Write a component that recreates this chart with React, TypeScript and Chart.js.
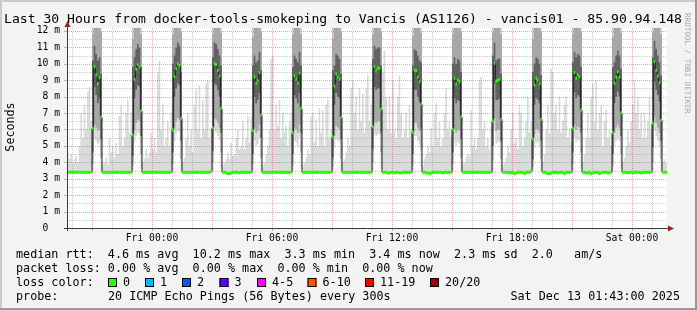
import { useEffect, useRef } from "react";
import { Chart, registerables } from "chart.js";

Chart.register(...registerables);

// ---------- axis ranges (hours relative to Fri 00:00) ----------
const xStartHour = -4.25;
const xEndHour = 25.75;
const stepHours = 5 / 60;
const yMax = 12.18;

const xTickHours = [0, 6, 12, 18, 24];
const xTickLabels = ["Fri 00:00", "Fri 06:00", "Fri 12:00", "Fri 18:00", "Sat 00:00"];
const yTickValues = [0, 1, 2, 3, 4, 5, 6, 7, 8, 9, 10, 11, 12];
const yTickLabels = ["0  ", "1 m", "2 m", "3 m", "4 m", "5 m", "6 m", "7 m", "8 m", "9 m", "10 m", "11 m", "12 m"];

// ---------- median rtt per 5-minute step (ms) ----------
const rttMed = [
  3.4, 3.4, 3.4, 3.4, 3.4, 3.4, 3.4, 3.4, 3.4, 3.4, 3.4, 3.4, 3.4, 3.4, 3.4,
  6.07, 9.82, 9.32, 8.8, 9.15, 6.76, 3.4, 3.4, 3.4, 3.4, 3.4, 3.4, 3.4, 3.4, 3.4, 3.4, 3.4, 3.4, 3.4, 3.4, 3.4, 3.4, 3.4, 3.4,
  5.66, 9.05, 9.66, 9.95, 9.8, 7.14, 3.4, 3.4, 3.4, 3.4, 3.4, 3.4, 3.4, 3.4, 3.4, 3.4, 3.4, 3.4, 3.4, 3.4, 3.4, 3.4, 3.4, 3.4,
  5.97, 9.22, 9.72, 10.0, 9.9, 6.68, 3.4, 3.4, 3.4, 3.4, 3.4, 3.4, 3.4, 3.4, 3.4, 3.4, 3.4, 3.4, 3.4, 3.4, 3.4, 3.4, 3.4, 3.45,
  6.1, 10.0, 9.95, 9.6, 9.26, 7.29, 3.4, 3.4, 3.35, 3.3, 3.3, 3.35, 3.4, 3.4, 3.4, 3.4, 3.35, 3.4, 3.4, 3.4, 3.4, 3.4, 3.4, 3.4,
  5.93, 9.18, 8.81, 8.97, 9.46, 6.88, 3.4, 3.4, 3.4, 3.4, 3.4, 3.4, 3.4, 3.4, 3.4, 3.4, 3.4, 3.4, 3.4, 3.4, 3.4, 3.4, 3.4, 3.4,
  5.8, 9.26, 9.06, 8.85, 9.42, 7.29, 3.4, 3.4, 3.4, 3.4, 3.4, 3.4, 3.4, 3.4, 3.4, 3.4, 3.4, 3.4, 3.4, 3.4, 3.4, 3.4, 3.4, 3.4,
  5.56, 8.65, 9.38, 9.2, 9.06, 6.74, 3.4, 3.4, 3.4, 3.4, 3.4, 3.4, 3.4, 3.4, 3.4, 3.4, 3.4, 3.4, 3.4, 3.4, 3.4, 3.4, 3.4, 3.4,
  6.17, 9.82, 9.62, 9.75, 9.72, 7.25, 3.4, 3.4, 3.4, 3.35, 3.35, 3.4, 3.4, 3.35, 3.4, 3.4, 3.35, 3.35, 3.4, 3.4, 3.4, 3.4, 3.4, 3.4,
  5.83, 9.62, 9.58, 9.2, 8.91, 7.55, 3.4, 3.4, 3.35, 3.35, 3.3, 3.35, 3.4, 3.4, 3.4, 3.4, 3.4, 3.4, 3.35, 3.4, 3.4, 3.4, 3.4, 3.4,
  6.01, 9.12, 8.77, 9.01, 8.91, 6.78, 3.4, 3.4, 3.4, 3.4, 3.4, 3.4, 3.4, 3.4, 3.4, 3.4, 3.4, 3.4, 3.4, 3.4, 3.4, 3.4, 3.4, 3.4,
  6.52, 10.03, 8.95, 9.0, 9.06, 6.62, 3.4, 3.4, 3.4, 3.4, 3.35, 3.4, 3.4, 3.3, 3.35, 3.4, 3.4, 3.4, 3.4, 3.3, 3.4, 3.4, 3.4, 3.45,
  5.42, 8.71, 9.12, 9.0, 8.77, 6.62, 3.4, 3.4, 3.35, 3.3, 3.3, 3.35, 3.4, 3.4, 3.4, 3.35, 3.4, 3.4, 3.4, 3.3, 3.4, 3.4, 3.4, 3.4,
  6.07, 9.46, 9.12, 9.32, 9.2, 7.19, 3.4, 3.4, 3.35, 3.35, 3.4, 3.3, 3.35, 3.4, 3.4, 3.4, 3.3, 3.35, 3.4, 3.4, 3.4, 3.35, 3.4, 3.4,
  5.8, 8.81, 9.18, 9.52, 9.18, 7.02, 3.4, 3.4, 3.4, 3.35, 3.4, 3.4, 3.35, 3.4, 3.4, 3.4, 3.4, 3.35, 3.4, 3.4, 3.4, 3.4, 3.4, 3.4,
  6.38, 10.13, 9.6, 9.26, 8.85, 6.58, 3.4, 3.4, 3.4,
];

// ---------- smoke: lowest ping per step ----------
const rttMin = [
  3.3, 3.3, 3.3, 3.3, 3.3, 3.3, 3.3, 3.3, 3.3, 3.3, 3.3, 3.3, 3.3, 3.3, 3.3,
  3.5, 5.4, 5.3, 5.1, 5.2, 3.5, 3.3, 3.3, 3.3, 3.3, 3.3, 3.3, 3.3, 3.3, 3.3, 3.3, 3.3, 3.3, 3.3, 3.3, 3.3, 3.3, 3.3, 3.3,
  3.5, 5.2, 5.6, 5.8, 5.7, 3.6, 3.3, 3.3, 3.3, 3.3, 3.3, 3.3, 3.3, 3.3, 3.3, 3.3, 3.3, 3.3, 3.3, 3.3, 3.3, 3.3, 3.3, 3.3,
  3.5, 5.3, 5.7, 5.9, 5.8, 3.5, 3.3, 3.3, 3.3, 3.3, 3.3, 3.3, 3.3, 3.3, 3.3, 3.3, 3.3, 3.3, 3.3, 3.3, 3.3, 3.3, 3.3, 3.3,
  3.5, 5.9, 5.8, 5.6, 5.3, 3.6, 3.3, 3.3, 3.3, 3.3, 3.3, 3.3, 3.3, 3.3, 3.3, 3.3, 3.3, 3.3, 3.3, 3.3, 3.3, 3.3, 3.3, 3.3,
  3.5, 5.3, 5.0, 5.1, 5.5, 3.5, 3.3, 3.3, 3.3, 3.3, 3.3, 3.3, 3.3, 3.3, 3.3, 3.3, 3.3, 3.3, 3.3, 3.3, 3.3, 3.3, 3.3, 3.3,
  3.5, 5.3, 5.2, 5.0, 5.5, 3.6, 3.3, 3.3, 3.3, 3.3, 3.3, 3.3, 3.3, 3.3, 3.3, 3.3, 3.3, 3.3, 3.3, 3.3, 3.3, 3.3, 3.3, 3.3,
  3.5, 4.9, 5.4, 5.3, 5.2, 3.5, 3.3, 3.3, 3.3, 3.3, 3.3, 3.3, 3.3, 3.3, 3.3, 3.3, 3.3, 3.3, 3.3, 3.3, 3.3, 3.3, 3.3, 3.3,
  3.5, 5.7, 5.6, 5.7, 5.7, 3.6, 3.3, 3.3, 3.3, 3.3, 3.3, 3.3, 3.3, 3.3, 3.3, 3.3, 3.3, 3.3, 3.3, 3.3, 3.3, 3.3, 3.3, 3.3,
  3.5, 5.6, 5.6, 5.3, 5.1, 3.7, 3.3, 3.3, 3.3, 3.3, 3.3, 3.3, 3.3, 3.3, 3.3, 3.3, 3.3, 3.3, 3.3, 3.3, 3.3, 3.3, 3.3, 3.3,
  3.5, 5.2, 5.0, 5.2, 5.1, 3.5, 3.3, 3.3, 3.3, 3.3, 3.3, 3.3, 3.3, 3.3, 3.3, 3.3, 3.3, 3.3, 3.3, 3.3, 3.3, 3.3, 3.3, 3.3,
  3.5, 5.9, 5.1, 5.2, 5.2, 3.5, 3.3, 3.3, 3.3, 3.3, 3.3, 3.3, 3.3, 3.3, 3.3, 3.3, 3.3, 3.3, 3.3, 3.3, 3.3, 3.3, 3.3, 3.3,
  3.5, 4.9, 5.2, 5.2, 5.0, 3.5, 3.3, 3.3, 3.3, 3.3, 3.3, 3.3, 3.3, 3.3, 3.3, 3.3, 3.3, 3.3, 3.3, 3.3, 3.3, 3.3, 3.3, 3.3,
  3.5, 5.5, 5.2, 5.4, 5.3, 3.6, 3.3, 3.3, 3.3, 3.3, 3.3, 3.3, 3.3, 3.3, 3.3, 3.3, 3.3, 3.3, 3.3, 3.3, 3.3, 3.3, 3.3, 3.3,
  3.5, 5.0, 5.3, 5.5, 5.3, 3.6, 3.3, 3.3, 3.3, 3.3, 3.3, 3.3, 3.3, 3.3, 3.3, 3.3, 3.3, 3.3, 3.3, 3.3, 3.3, 3.3, 3.3, 3.3,
  3.5, 5.9, 5.6, 5.3, 5.0, 3.5, 3.3, 3.3, 3.3,
];

// ---------- smoke: highest ping per step ----------
const rttMax = [
  4.6, 4.2, 4.5, 4.0, 4.2, 4.4, 4.0, 5.0, 7.0, 5.5, 7.5, 6.0, 8.3, 8.6, 6.5,
  12.5, 12.5, 12.5, 12.5, 12.5, 12.5, 3.9, 4.0, 4.3, 3.9, 5.5, 4.6, 5.0, 4.3, 5.2, 4.5, 6.8, 7.5, 5.0, 5.5, 7.0, 7.8, 5.8, 7.0,
  12.5, 12.5, 12.5, 12.5, 12.5, 12.5, 4.0, 4.2, 4.8, 4.3, 4.6, 5.8, 4.8, 5.5, 4.6, 9.5, 10.2, 6.0, 7.5, 5.0, 5.5, 6.5, 5.0, 7.0,
  12.5, 12.5, 12.5, 12.5, 12.5, 12.5, 4.0, 4.3, 5.5, 7.0, 5.0, 6.0, 4.6, 7.5, 8.5, 6.0, 8.7, 5.5, 7.8, 6.0, 8.8, 9.0, 5.5, 6.0,
  12.5, 12.5, 12.5, 12.5, 12.5, 12.5, 3.8, 4.0, 4.2, 4.6, 4.2, 5.2, 4.4, 4.5, 5.5, 6.0, 4.8, 5.0, 6.5, 4.8, 5.5, 6.8, 5.2, 6.8,
  12.5, 12.5, 12.5, 12.5, 12.5, 12.5, 3.8, 4.0, 4.5, 5.0, 6.0, 10.3, 10.5, 6.0, 7.5, 6.2, 7.8, 5.5, 7.0, 5.8, 6.2, 5.0, 6.5, 7.0,
  12.5, 12.5, 12.5, 12.5, 12.5, 12.5, 3.8, 4.0, 4.3, 4.8, 4.5, 6.8, 7.0, 5.2, 6.6, 5.0, 7.3, 5.8, 7.2, 5.0, 7.5, 7.8, 5.5, 6.0,
  12.5, 12.5, 12.5, 12.5, 12.5, 12.5, 4.0, 4.2, 4.6, 5.5, 5.0, 8.5, 9.0, 7.0, 8.0, 6.0, 8.5, 6.5, 8.2, 5.8, 8.5, 9.3, 6.5, 7.5,
  12.5, 12.5, 12.5, 12.5, 12.5, 12.5, 9.5, 10.8, 8.0, 6.0, 8.0, 5.8, 9.0, 6.0, 5.5, 8.0, 9.3, 7.0, 5.5, 6.0, 7.0, 5.5, 7.5, 6.0,
  12.5, 12.5, 12.5, 12.5, 12.5, 12.5, 3.8, 4.2, 4.5, 5.0, 4.6, 6.1, 5.0, 7.0, 7.6, 5.5, 6.5, 5.0, 5.5, 7.0, 8.5, 6.0, 6.5, 5.5,
  12.5, 12.5, 12.5, 12.5, 12.5, 12.5, 3.9, 4.0, 4.3, 4.5, 4.4, 7.2, 5.0, 5.5, 4.8, 5.5, 9.0, 9.2, 6.0, 6.5, 5.0, 5.5, 4.8, 6.2,
  12.5, 12.5, 12.5, 12.5, 12.5, 12.5, 3.8, 4.0, 4.3, 5.0, 4.6, 6.0, 7.0, 5.2, 5.5, 4.8, 7.5, 7.0, 5.0, 5.5, 6.5, 8.0, 5.8, 6.5,
  12.5, 12.5, 12.5, 12.5, 12.5, 12.5, 4.0, 4.5, 6.0, 7.5, 5.8, 9.7, 9.5, 7.0, 7.5, 6.0, 8.0, 5.8, 6.5, 7.5, 8.0, 5.5, 6.0, 5.2,
  12.5, 12.5, 12.5, 12.5, 12.5, 12.5, 4.0, 4.5, 5.5, 7.0, 5.5, 8.0, 8.8, 6.5, 9.0, 6.0, 7.0, 7.5, 5.0, 6.5, 7.2, 5.5, 6.0, 5.0,
  12.5, 12.5, 12.5, 12.5, 12.5, 12.5, 4.0, 4.3, 5.0, 6.0, 5.2, 6.5, 7.5, 9.0, 7.0, 8.0, 6.0, 7.0, 5.5, 7.0, 5.5, 6.5, 8.0, 6.0,
  12.5, 12.5, 12.5, 12.5, 12.5, 12.5, 4.0, 4.2, 4.0,
];

// ---------- latency bursts: first step of each burst and 6 steps of inner smoke ----------
const spikeStart = [15, 39, 63, 87, 111, 135, 159, 183, 207, 231, 255, 279, 303, 327, 351];

const spikeMidLo = [
  3.9, 6.3, 6.1, 5.9, 6.0, 4.3,
  3.8, 6.0, 6.4, 6.6, 6.5, 4.5,
  3.9, 6.1, 6.5, 6.7, 6.6, 4.2,
  4.0, 6.7, 6.6, 6.4, 6.1, 4.6,
  3.9, 6.1, 5.8, 5.9, 6.3, 4.3,
  3.8, 6.1, 6.0, 5.8, 6.3, 4.6,
  3.7, 5.6, 6.2, 6.1, 6.0, 4.2,
  4.0, 6.5, 6.4, 6.5, 6.5, 4.6,
  3.8, 6.4, 6.4, 6.1, 5.9, 4.8,
  3.9, 6.0, 5.8, 6.0, 5.9, 4.3,
  4.1, 6.7, 5.9, 6.0, 6.0, 4.2,
  3.7, 5.7, 6.0, 6.0, 5.8, 4.2,
  3.9, 6.3, 6.0, 6.2, 6.1, 4.6,
  3.8, 5.8, 6.1, 6.3, 6.1, 4.5,
  4.0, 6.8, 6.4, 6.1, 5.8, 4.2,
];
const spikeMidHi = [
  11.8, 12.5, 12.5, 12.5, 12.5, 12.0,
  11.5, 12.5, 12.5, 12.5, 12.5, 11.8,
  11.8, 12.5, 12.5, 12.5, 12.5, 12.0,
  11.8, 12.5, 12.5, 12.5, 12.5, 11.9,
  11.6, 12.5, 12.5, 12.5, 12.5, 12.0,
  11.8, 12.5, 12.5, 12.5, 12.5, 11.8,
  11.5, 12.5, 12.5, 12.5, 12.5, 12.0,
  11.8, 12.5, 12.5, 12.5, 12.5, 12.0,
  11.7, 12.5, 12.5, 12.5, 12.5, 11.9,
  11.8, 12.5, 12.5, 12.5, 12.5, 12.0,
  11.9, 12.5, 12.5, 12.5, 12.5, 11.8,
  11.5, 12.5, 12.5, 12.5, 12.5, 12.0,
  11.8, 12.5, 12.5, 12.5, 12.5, 12.0,
  11.6, 12.5, 12.5, 12.5, 12.5, 11.9,
  11.9, 12.5, 12.5, 12.5, 12.5, 11.8,
];
const spikeCoreLo = [
  4.6, 8.6, 8.1, 7.6, 7.9, 5.4,
  4.4, 7.9, 8.4, 8.7, 8.6, 5.6,
  4.6, 8.0, 8.5, 8.8, 8.7, 5.3,
  4.7, 8.8, 8.7, 8.4, 8.0, 5.8,
  4.5, 8.0, 7.6, 7.8, 8.2, 5.5,
  4.5, 8.1, 7.9, 7.6, 8.2, 5.8,
  4.3, 7.5, 8.2, 8.0, 7.9, 5.4,
  4.8, 8.6, 8.4, 8.5, 8.5, 5.8,
  4.5, 8.4, 8.4, 8.0, 7.7, 6.0,
  4.6, 7.9, 7.6, 7.8, 7.7, 5.4,
  5.0, 8.8, 7.8, 7.8, 7.9, 5.3,
  4.2, 7.5, 7.9, 7.8, 7.6, 5.3,
  4.6, 8.3, 7.9, 8.1, 8.0, 5.8,
  4.5, 7.6, 8.0, 8.3, 8.0, 5.6,
  4.9, 8.9, 8.4, 8.1, 7.7, 5.3,
];
const spikeCoreHi = [
  10.2, 11.1, 10.6, 10.2, 10.4, 9.4,
  9.8, 10.4, 10.9, 11.2, 11.0, 9.8,
  10.0, 10.5, 11.0, 11.3, 11.1, 9.5,
  10.4, 11.3, 11.2, 10.9, 10.5, 9.9,
  9.9, 10.5, 10.1, 10.2, 10.7, 9.6,
  9.8, 10.5, 10.3, 10.1, 10.7, 9.9,
  9.6, 9.9, 10.6, 10.5, 10.3, 9.4,
  10.3, 11.1, 10.9, 11.0, 11.0, 9.9,
  9.9, 10.9, 10.8, 10.5, 10.2, 10.1,
  10.0, 10.4, 10.0, 10.3, 10.2, 9.5,
  10.5, 11.3, 10.2, 10.3, 10.3, 9.4,
  9.5, 10.0, 10.4, 10.3, 10.0, 9.3,
  10.1, 10.7, 10.4, 10.6, 10.5, 9.8,
  9.8, 10.1, 10.5, 10.8, 10.5, 9.7,
  10.4, 11.4, 10.9, 10.5, 10.1, 9.3,
];

// ---------- texts ----------
const titleText = "Last 30 Hours from docker-tools-smokeping to Vancis (AS1126) - vancis01 - 85.90.94.148";
const yAxisTitle = "Seconds";
const watermark = "RRDTOOL / TOBI OETIKER";
const legendRtt = "median rtt:  4.6 ms avg  10.2 ms max  3.3 ms min  3.4 ms now  2.3 ms sd  2.0   am/s";
const legendLoss = "packet loss: 0.00 % avg  0.00 % max  0.00 % min  0.00 % now";
const legendColorTitle = "loss color:";
const lossLabels = ["0", "1", "2", "3", "4-5", "6-10", "11-19", "20/20"];
const lossColors = ["#26ff00", "#00b8ff", "#0059ff", "#5e00ff", "#ff00ff", "#ff5500", "#ff0000", "#a00000"];
const probeTitle = "probe:";
const probeText = "20 ICMP Echo Pings (56 Bytes) every 300s";
const dateText = "Sat Dec 13 01:43:00 2025";

// ---------- layout / style ----------
const MONO = '"DejaVu Sans Mono", monospace';
const lossBoxX = [108, 145, 182, 219.5, 257, 307.5, 365, 430];
const greenHalf = 0.09;
const GRID_BEFORE_INDEX = 2;

function buildPoints(vals: number[]) {
  const pts = vals.map((v, i) => ({ x: xStartHour + i * stepHours, y: v }));
  pts.push({ x: xStartHour + vals.length * stepHours, y: vals[vals.length - 1] });
  return pts;
}

function spikeSeries(spikeVals: number[]) {
  const out = rttMin.slice();
  spikeStart.forEach((s, k) => {
    for (let j = 0; j < 6; j++) out[s + j] = spikeVals[k * 6 + j];
  });
  return out;
}

function drawGrid(chart: any) {
  const { ctx, chartArea: a } = chart;
  const xs = chart.scales.x;
  const ys = chart.scales.y;
  const minorCol = "rgba(140,140,140,0.45)";
  const majorCol = "rgba(200,40,40,0.42)";
  ctx.save();
  ctx.lineWidth = 1;
  ctx.setLineDash([1, 1]);
  ctx.strokeStyle = minorCol;
  ctx.beginPath();
  for (let h = -4; h <= 25; h++) {
    if (h % 3 === 0) continue;
    const px = Math.round(xs.getPixelForValue(h)) + 0.5;
    ctx.moveTo(px, a.top);
    ctx.lineTo(px, a.bottom);
  }
  for (let v = 0.5; v < yMax; v += 1) {
    const py = Math.round(ys.getPixelForValue(v)) + 0.5;
    ctx.moveTo(a.left, py);
    ctx.lineTo(a.right, py);
  }
  ctx.stroke();
  ctx.strokeStyle = majorCol;
  ctx.beginPath();
  for (let h = -3; h <= 25; h += 3) {
    const px = Math.round(xs.getPixelForValue(h)) + 0.5;
    ctx.moveTo(px, a.top);
    ctx.lineTo(px, a.bottom);
  }
  for (let v = 1; v < yMax; v += 1) {
    const py = Math.round(ys.getPixelForValue(v)) + 0.5;
    ctx.moveTo(a.left, py);
    ctx.lineTo(a.right, py);
  }
  ctx.stroke();
  ctx.setLineDash([]);
  ctx.strokeStyle = majorCol;
  ctx.beginPath();
  for (let h = -3; h <= 25; h += 3) {
    const px = Math.round(xs.getPixelForValue(h)) + 0.5;
    ctx.moveTo(px, a.bottom);
    ctx.lineTo(px, a.bottom + 3);
  }
  for (let v = 1; v < yMax; v += 1) {
    const py = Math.round(ys.getPixelForValue(v)) + 0.5;
    ctx.moveTo(a.left - 3, py);
    ctx.lineTo(a.left, py);
  }
  ctx.stroke();
  ctx.strokeStyle = minorCol;
  ctx.beginPath();
  for (let h = -4; h <= 25; h++) {
    if (h % 3 === 0) continue;
    const px = Math.round(xs.getPixelForValue(h)) + 0.5;
    ctx.moveTo(px, a.bottom);
    ctx.lineTo(px, a.bottom + 2);
  }
  ctx.stroke();
  ctx.restore();
}

const rrdPlugin = {
  id: "rrdDecor",
  beforeDraw(chart: any) {
    const { ctx, chartArea: a } = chart;
    const W = chart.width;
    const H = chart.height;
    ctx.save();
    ctx.fillStyle = "#f3f3f3";
    ctx.fillRect(0, 0, W, H);
    ctx.fillStyle = "#cbcbcb";
    ctx.fillRect(0, 0, W, 2);
    ctx.fillRect(0, 0, 2, H);
    ctx.fillStyle = "#999999";
    ctx.fillRect(0, H - 2, W, 2);
    ctx.fillRect(W - 2, 0, 2, H);
    ctx.fillStyle = "#ffffff";
    ctx.fillRect(a.left, a.top, a.right - a.left, a.bottom - a.top);
    ctx.restore();
  },
  beforeDatasetDraw(chart: any, args: any) {
    if (args.index === GRID_BEFORE_INDEX) drawGrid(chart);
  },
  afterDatasetsDraw(chart: any) {
    const { ctx, chartArea: a } = chart;
    ctx.save();
    const ax = Math.round(a.left) + 0.5;
    const ay = Math.round(a.bottom) + 0.5;
    ctx.lineWidth = 1;
    ctx.strokeStyle = "#3a3a3a";
    ctx.beginPath();
    ctx.moveTo(ax, a.bottom + 3);
    ctx.lineTo(ax, a.top - 4);
    ctx.moveTo(a.left - 3, ay);
    ctx.lineTo(a.right + 4, ay);
    ctx.stroke();
    ctx.fillStyle = "#a02020";
    ctx.beginPath();
    ctx.moveTo(ax, a.top - 7);
    ctx.lineTo(ax - 3, a.top - 1);
    ctx.lineTo(ax + 3, a.top - 1);
    ctx.closePath();
    ctx.fill();
    ctx.beginPath();
    ctx.moveTo(a.right + 7, ay);
    ctx.lineTo(a.right + 1, ay - 3);
    ctx.lineTo(a.right + 1, ay + 3);
    ctx.closePath();
    ctx.fill();
    ctx.restore();
  },
  afterDraw(chart: any) {
    const { ctx } = chart;
    ctx.save();
    ctx.fillStyle = "#000000";
    ctx.textAlign = "left";
    ctx.textBaseline = "alphabetic";
    ctx.font = `13.1px ${MONO}`;
    ctx.fillText(titleText, 4, 23);

    ctx.save();
    ctx.translate(11, 127);
    ctx.rotate(-Math.PI / 2);
    ctx.font = `11.7px ${MONO}`;
    ctx.textAlign = "center";
    ctx.textBaseline = "middle";
    ctx.fillText(yAxisTitle, 0, 0);
    ctx.restore();

    ctx.save();
    ctx.translate(687, 13);
    ctx.rotate(Math.PI / 2);
    ctx.font = `7.6px ${MONO}`;
    ctx.fillStyle = "#a8a8a8";
    ctx.textAlign = "left";
    ctx.textBaseline = "middle";
    ctx.fillText(watermark, 0, 0);
    ctx.restore();

    ctx.font = `11.74px ${MONO}`;
    ctx.fillStyle = "#000000";
    ctx.fillText(legendRtt, 16, 258);
    ctx.fillText(legendLoss, 16, 272);
    ctx.fillText(legendColorTitle, 16, 286);
    lossLabels.forEach((lab, i) => {
      const bx = lossBoxX[i];
      ctx.fillStyle = lossColors[i];
      ctx.fillRect(bx, 278, 9, 9);
      ctx.strokeStyle = "#000000";
      ctx.lineWidth = 1;
      ctx.strokeRect(bx + 0.5, 278.5, 8, 8);
      ctx.fillStyle = "#000000";
      ctx.fillText(lab, bx + 15, 286);
    });
    ctx.fillText(probeTitle, 16, 300);
    ctx.fillText(probeText, 108, 300);
    ctx.textAlign = "right";
    ctx.fillText(dateText, 680, 300);
    ctx.restore();
  },
};

function band(lower: number[], upper: number[], color: string, base: number) {
  return [
    {
      data: buildPoints(lower),
      borderWidth: 0,
      borderColor: "transparent",
      pointRadius: 0,
      stepped: true,
      fill: false,
      order: 100 - base,
    },
    {
      data: buildPoints(upper),
      borderWidth: 0,
      borderColor: "transparent",
      backgroundColor: color,
      pointRadius: 0,
      stepped: true,
      fill: { target: base },
      order: 100 - base - 1,
    },
  ];
}

export default function App() {
  const ref = useRef<HTMLCanvasElement>(null);
  useEffect(() => {
    if (!ref.current) return;
    const midLo = spikeSeries(spikeMidLo);
    const midHi = spikeSeries(spikeMidHi);
    const coreLo = spikeSeries(spikeCoreLo);
    const coreHi = spikeSeries(spikeCoreHi);
    const greenLo = rttMed.map((v) => v - greenHalf);
    const greenHi = rttMed.map((v) => v + greenHalf);

    const datasets: any[] = [
      ...band(rttMin, rttMax, "#dbdbdb", 0),
      ...band(midLo, midHi, "#a8a8a8", 2),
      ...band(coreLo, coreHi, "#626262", 4),
      {
        data: buildPoints(rttMed),
        borderWidth: 1,
        borderColor: "#202020",
        pointRadius: 0,
        stepped: true,
        fill: false,
        order: 100 - 6,
      },
      ...band(greenLo, greenHi, "#26ff00", 7),
    ];

    const chart = new Chart(ref.current, {
      type: "line",
      data: { datasets },
      options: {
        animation: false,
        responsive: false,
        devicePixelRatio: 1,
        events: [],
        parsing: false,
        layout: { autoPadding: false, padding: { top: 28, right: 30, left: 0, bottom: 0 } },
        plugins: { legend: { display: false }, tooltip: { enabled: false }, title: { display: false } },
        scales: {
          x: {
            type: "linear",
            position: "bottom",
            min: xStartHour,
            max: xEndHour,
            grid: { display: false, drawTicks: false },
            border: { display: false },
            afterBuildTicks: (s: any) => {
              s.ticks = xTickHours.map((v) => ({ value: v }));
            },
            afterFit: (s: any) => {
              s.height = 82;
            },
            ticks: {
              autoSkip: false,
              maxRotation: 0,
              minRotation: 0,
              padding: 5,
              color: "#000000",
              font: { family: "DejaVu Sans Mono", size: 9.7 },
              callback: (v: any) => {
                const i = xTickHours.indexOf(Number(v));
                return i >= 0 ? xTickLabels[i] : "";
              },
            },
          },
          y: {
            type: "linear",
            position: "left",
            min: 0,
            max: yMax,
            grid: { display: false, drawTicks: false },
            border: { display: false },
            afterBuildTicks: (s: any) => {
              s.ticks = yTickValues.map((v) => ({ value: v }));
            },
            afterFit: (s: any) => {
              s.width = 67;
            },
            ticks: {
              autoSkip: false,
              padding: 7,
              color: "#000000",
              font: { family: "DejaVu Sans Mono", size: 9.7 },
              callback: (v: any) => {
                const i = yTickValues.indexOf(Number(v));
                return i >= 0 ? yTickLabels[i] : "";
              },
            },
          },
        },
      },
      plugins: [rrdPlugin],
    } as any);
    return () => chart.destroy();
  }, []);

  return (
    <div style={{ position: "fixed", left: 0, top: 0, width: 697, height: 310 }}>
      <canvas ref={ref} width={697} height={310} style={{ display: "block", width: 697, height: 310 }} />
    </div>
  );
}
